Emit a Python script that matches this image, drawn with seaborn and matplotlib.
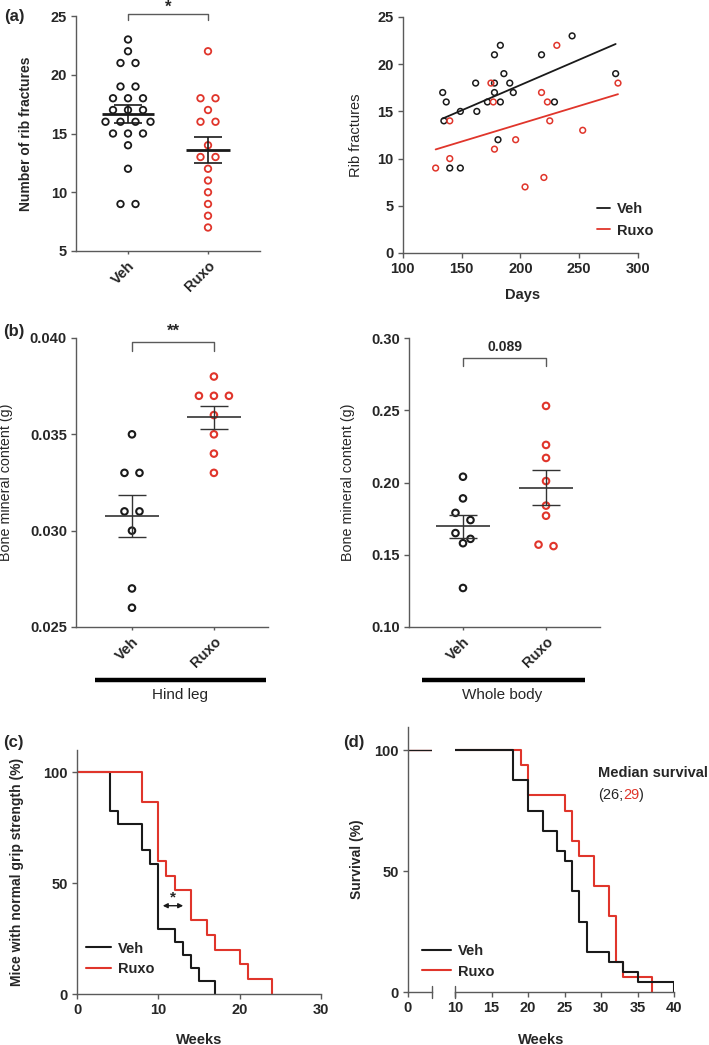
import numpy as np
import seaborn as sns
import matplotlib.pyplot as plt
from matplotlib.ticker import FormatStrFormatter

sns.set_style("ticks")
plt.rcParams['font.family'] = ['Liberation Sans', 'DejaVu Sans']
plt.rcParams['font.weight'] = 'bold'
plt.rcParams['axes.labelweight'] = 'bold'

BLACK = '#1a1a1a'
RED = '#e0352b'
AX = '#5a5a5a'

groups = ['Veh', 'Ruxo']

# (a) number of rib fractures per mouse
rib_veh = [23, 22, 21, 21, 19, 19, 18, 18, 18, 17, 17, 17, 16, 16, 16, 16, 15, 15, 15, 14, 12, 9, 9]
rib_ruxo = [22, 18, 18, 17, 16, 16, 14, 13, 13, 12, 11, 10, 9, 8, 7]

# (a) rib fractures vs age in days
days_veh = [134, 137, 135, 149, 140, 149, 162, 163, 172, 178, 183, 178, 178, 183, 186, 191, 194, 181, 218, 229, 244, 281]
ribs_veh = [17, 16, 14, 15, 9, 9, 18, 15, 16, 21, 22, 18, 17, 16, 19, 18, 17, 12, 21, 16, 23, 19]
days_ruxo = [128, 140, 140, 175, 177, 178, 196, 204, 218, 220, 223, 225, 231, 253, 283]
ribs_ruxo = [9, 14, 10, 18, 16, 11, 12, 7, 17, 8, 16, 14, 22, 13, 18]

# (b) bone mineral content (g)
bmc_leg_veh = [0.035, 0.033, 0.033, 0.031, 0.031, 0.030, 0.027, 0.026]
bmc_leg_ruxo = [0.038, 0.037, 0.037, 0.037, 0.036, 0.035, 0.034, 0.033]
bmc_body_veh = [0.204, 0.189, 0.179, 0.174, 0.165, 0.161, 0.158, 0.127]
bmc_body_ruxo = [0.253, 0.226, 0.217, 0.201, 0.184, 0.177, 0.157, 0.156]

# (c) mice with normal grip strength (%), step curves
grip_wk_veh = [0, 4, 5, 8, 9, 10, 12, 13, 14, 15, 17]
grip_veh = [100, 82.4, 76.5, 64.7, 58.8, 29.4, 23.5, 17.6, 11.8, 5.9, 0]
grip_wk_ruxo = [0, 8, 10, 11, 12, 14, 16, 17, 20, 21, 24]
grip_ruxo = [100, 86.7, 60, 53.3, 46.7, 33.3, 26.7, 20, 13.3, 6.7, 0]

# (d) survival (%), step curves
surv_wk_veh = [0, 18, 20, 22, 24, 25, 26, 27, 28, 31, 33, 35, 40]
surv_veh = [100, 87.5, 75, 66.7, 58.3, 54.2, 41.7, 29.2, 16.7, 12.5, 8.3, 4.2, 0]
surv_wk_ruxo = [0, 19, 20, 25, 26, 27, 29, 31, 32, 33, 37]
surv_ruxo = [100, 93.8, 81.3, 75, 62.5, 56.3, 43.8, 31.3, 12.5, 6.3, 0]

W, H = 709, 1045
fig = plt.figure(figsize=(W / 100, H / 100), dpi=100)


def px_axes(x0, y0, x1, y1):
    # box given in pixels from the top-left corner
    return fig.add_axes([x0 / W, 1 - y1 / H, (x1 - x0) / W, (y1 - y0) / H])


def style(ax):
    sns.despine(ax=ax)
    for s in ['left', 'bottom']:
        ax.spines[s].set_color(AX)
        ax.spines[s].set_linewidth(1)
    ax.tick_params(length=3.5, width=1, color=AX, labelsize=10.5, pad=3)


def dot_column(ax, values, pos, color, tol=8, gap=15, s=22, lw=1.3):
    # prism-like scatter: near-equal values are spread symmetrically
    y = np.asarray(values, float)
    order = np.argsort(-y, kind='stable')
    ypx = ax.transData.transform(np.column_stack([np.zeros_like(y), y]))[:, 1]
    xunit = ax.transData.transform((1, 0))[0] - ax.transData.transform((0, 0))[0]
    xs = np.full(len(y), float(pos))
    i = 0
    while i < len(order):
        j = i + 1
        while j < len(order) and ypx[order[i]] - ypx[order[j]] < tol:
            j += 1
        n = j - i
        for k, idx in enumerate(order[i:j]):
            xs[idx] = pos + (k - (n - 1) / 2) * gap / xunit
        i = j
    sns.scatterplot(x=xs, y=y, ax=ax, s=s, facecolors='none', edgecolor=color,
                    linewidth=lw, zorder=3)


def mean_sem(ax, values, pos, half=0.32, cap=0.17, lw_mean=1.2, lw=1.0, color=BLACK):
    v = np.asarray(values, float)
    m = v.mean()
    se = v.std(ddof=1) / np.sqrt(len(v))
    ax.hlines(m, pos - half, pos + half, color=color, lw=lw_mean, zorder=4)
    ax.vlines(pos, m - se, m + se, color=color, lw=lw, zorder=4)
    ax.hlines([m - se, m + se], pos - cap, pos + cap, color=color, lw=lw, zorder=4)


def bracket(ax, y, h, text, ty, fs=12):
    ax.plot([0, 0, 1, 1], [y - h, y, y, y - h], color=AX, lw=1, clip_on=False)
    ax.text(0.5, ty, text, ha='center', va='center', fontsize=fs, clip_on=False)


def cat_ticks(ax):
    ax.set_xticks([0, 1], groups, rotation=45, ha='right', rotation_mode='anchor',
                  fontsize=10.5)
    ax.tick_params(axis='x', length=2.5)


# ---- (a) left
ax = px_axes(76, 16, 260, 251)
ax.set_xlim(-0.65, 1.65)
ax.set_ylim(5, 25)
style(ax)
dot_column(ax, rib_veh, 0, BLACK)
dot_column(ax, rib_ruxo, 1, RED)
mean_sem(ax, rib_veh, 0, lw_mean=2.0, lw=1.2)
mean_sem(ax, rib_ruxo, 1, half=0.28, lw_mean=2.0, lw=1.2)
ax.set_yticks(range(5, 26, 5))
cat_ticks(ax)
ax.set_ylabel('Number of rib fractures', fontsize=10)
ax.yaxis.set_label_coords(-0.234, 0.5)
bracket(ax, 25.15, 0.45, '*', 25.75)

# ---- (a) right
ax = px_axes(402.7, 17, 638, 253)
style(ax)
sns.scatterplot(x=days_veh, y=ribs_veh, ax=ax, s=17, facecolors='none',
                edgecolor=BLACK, linewidth=1.1)
sns.scatterplot(x=days_ruxo, y=ribs_ruxo, ax=ax, s=17, facecolors='none',
                edgecolor=RED, linewidth=1.1)
sns.regplot(x=days_veh, y=ribs_veh, ax=ax, scatter=False, ci=None, color=BLACK,
            line_kws={'lw': 1.3}, label='Veh')
sns.regplot(x=days_ruxo, y=ribs_ruxo, ax=ax, scatter=False, ci=None, color=RED,
            line_kws={'lw': 1.3}, label='Ruxo')
ax.set_xlim(100, 300)
ax.set_ylim(0, 25)
ax.set_xticks(range(100, 301, 50))
ax.set_yticks(range(0, 26, 5))
ax.set_xlabel('Days', fontsize=10.5)
ax.xaxis.set_label_coords(0.511, -0.148)
ax.set_ylabel('Rib fractures', fontsize=10.5, fontweight='normal')
ax.yaxis.set_label_coords(-0.169, 0.5)
ax.legend(loc='upper left', bbox_to_anchor=(0.825, 0.215), frameon=False,
          handlelength=0.9, handletextpad=0.5, borderpad=0, borderaxespad=0,
          labelspacing=0.5, prop={'size': 10.5, 'weight': 'bold'})

# ---- (b) left
ax = px_axes(76, 338, 268, 627)
ax.set_xlim(-0.683, 1.66)
ax.set_ylim(0.025, 0.040)
style(ax)
dot_column(ax, bmc_leg_veh, 0, BLACK, s=22, lw=1.5)
dot_column(ax, bmc_leg_ruxo, 1, RED, s=22, lw=1.5)
mean_sem(ax, bmc_leg_veh, 0, half=0.33, color='#333333')
mean_sem(ax, bmc_leg_ruxo, 1, half=0.33, color='#333333')
ax.set_yticks(np.arange(0.025, 0.0401, 0.005))
ax.yaxis.set_major_formatter(FormatStrFormatter('%.3f'))
cat_ticks(ax)
ax.set_ylabel('Bone mineral content (g)', fontsize=10.3, fontweight='normal')
ax.yaxis.set_label_coords(-0.328, 0.5)
bracket(ax, 0.03978, 0.00048, '**', 0.04035)
ax.plot([0.099, 0.988], [-0.183, -0.183], transform=ax.transAxes, color='black',
        lw=3.2, solid_capstyle='butt', clip_on=False)
ax.text(0.542, -0.235, 'Hind leg', transform=ax.transAxes, ha='center', va='center',
        fontsize=11, fontweight='normal')

# ---- (b) right
ax = px_axes(409, 338, 600, 627)
ax.set_xlim(-0.65, 1.65)
ax.set_ylim(0.10, 0.30)
style(ax)
dot_column(ax, bmc_body_veh, 0, BLACK, s=22, lw=1.5)
dot_column(ax, bmc_body_ruxo, 1, RED, s=22, lw=1.5)
mean_sem(ax, bmc_body_veh, 0, half=0.33, color='#333333')
mean_sem(ax, bmc_body_ruxo, 1, half=0.33, color='#333333')
ax.set_yticks(np.arange(0.10, 0.301, 0.05))
ax.yaxis.set_major_formatter(FormatStrFormatter('%.2f'))
cat_ticks(ax)
ax.set_ylabel('Bone mineral content (g)', fontsize=10.3, fontweight='normal')
ax.yaxis.set_label_coords(-0.283, 0.5)
bracket(ax, 0.2862, 0.0058, '0.089', 0.2938, fs=10)
ax.plot([0.066, 0.921], [-0.183, -0.183], transform=ax.transAxes, color='black',
        lw=3.2, solid_capstyle='butt', clip_on=False)
ax.text(0.485, -0.235, 'Whole body', transform=ax.transAxes, ha='center', va='center',
        fontsize=11, fontweight='normal')

# ---- (c)
ax = px_axes(77, 750, 321, 994)
style(ax)
sns.lineplot(x=grip_wk_veh, y=grip_veh, ax=ax, drawstyle='steps-post', estimator=None,
             sort=False, color=BLACK, lw=1.5, label='Veh')
sns.lineplot(x=grip_wk_ruxo, y=grip_ruxo, ax=ax, drawstyle='steps-post', estimator=None,
             sort=False, color=RED, lw=1.5, label='Ruxo')
ax.set_xlim(0, 30)
ax.set_ylim(0, 110)
ax.set_xticks([0, 10, 20, 30])
ax.set_yticks([0, 50, 100])
ax.set_xlabel('Weeks', fontsize=10.5)
ax.xaxis.set_label_coords(0.5, -0.16)
ax.set_ylabel('Mice with normal grip strength (%)', fontsize=10)
ax.yaxis.set_label_coords(-0.217, 0.5)
ax.annotate('', xy=(13.4, 39.8), xytext=(10.2, 39.8),
            arrowprops=dict(arrowstyle='<|-|>', color=BLACK, lw=1, mutation_scale=7))
ax.text(11.75, 43.5, '*', ha='center', va='center', fontsize=11)
ax.legend(loc='upper left', bbox_to_anchor=(0.036, 0.215), frameon=False,
          handlelength=1.7, handletextpad=0.5, borderpad=0, borderaxespad=0,
          labelspacing=0.45, prop={'size': 10.5, 'weight': 'bold'})

# ---- (d) broken x axis
ax1 = px_axes(407.7, 727, 431.7, 992.3)
ax2 = px_axes(455, 727, 674.3, 992.3)
for a in (ax1, ax2):
    style(a)
    # Ruxo first so the Veh line sits on top where both run at 100 %
    for wk, sv, c, lab in [(surv_wk_ruxo, surv_ruxo, RED, 'Ruxo'),
                           (surv_wk_veh, surv_veh, BLACK, 'Veh')]:
        sns.lineplot(x=wk, y=sv, ax=a, drawstyle='steps-post', estimator=None, sort=False,
                     color=c, lw=1.5 if a is ax2 else 0.9,
                     label=lab if a is ax2 else None)
    a.set_ylim(0, 109.5)
ax1.set_xlim(0, 5)
ax2.set_xlim(10, 40)
ax1.set_xticks([0])
ax1.set_yticks([0, 50, 100])
ax2.set_xticks(range(10, 41, 5))
ax2.spines['left'].set_visible(False)
ax2.tick_params(axis='y', left=False, labelleft=False)
for a, xb in [(ax1, 5), (ax2, 10)]:
    a.plot([xb, xb], [-0.022, 0.022], transform=a.get_xaxis_transform(), color=AX,
           lw=1, clip_on=False)
ax1.set_ylabel('Survival (%)', fontsize=10)
ax1.yaxis.set_label_coords(-1.82, 0.5)
ax2.set_xlabel('Weeks', fontsize=10.5)
ax2.xaxis.set_label_coords(0.395, -0.153)
hs, ls = ax2.get_legend_handles_labels()
ax2.legend(hs[::-1], ls[::-1], loc='upper left', bbox_to_anchor=(421.7 / W, 1 - 944 / H),
           bbox_transform=fig.transFigure, frameon=False, handlelength=2.0,
           handletextpad=0.5, borderpad=0, borderaxespad=0, labelspacing=0.45,
           prop={'size': 10.5, 'weight': 'bold'})
ax2.text(0.651, 0.827, 'Median survival', transform=ax2.transAxes, ha='left',
         va='center', fontsize=10.5)
t1 = ax2.text(0.651, 0.744, '(26;', transform=ax2.transAxes, ha='left', va='center',
              fontsize=10.5, fontweight='normal')
t2 = ax2.annotate('29', xy=(1, 0), xycoords=t1, ha='left', va='bottom', color=RED,
                  fontsize=10.5, fontweight='normal')
ax2.annotate(')', xy=(1, 0), xycoords=t2, ha='left', va='bottom', fontsize=10.5,
             fontweight='normal')

# panel letters
for lab, x, y in [('(a)', 4, 17), ('(b)', 3, 331), ('(c)', 3, 742), ('(d)', 343, 742)]:
    fig.text(x / W, 1 - y / H, lab, ha='left', va='center', fontsize=12)

plt.savefig('out.png', dpi=100)
